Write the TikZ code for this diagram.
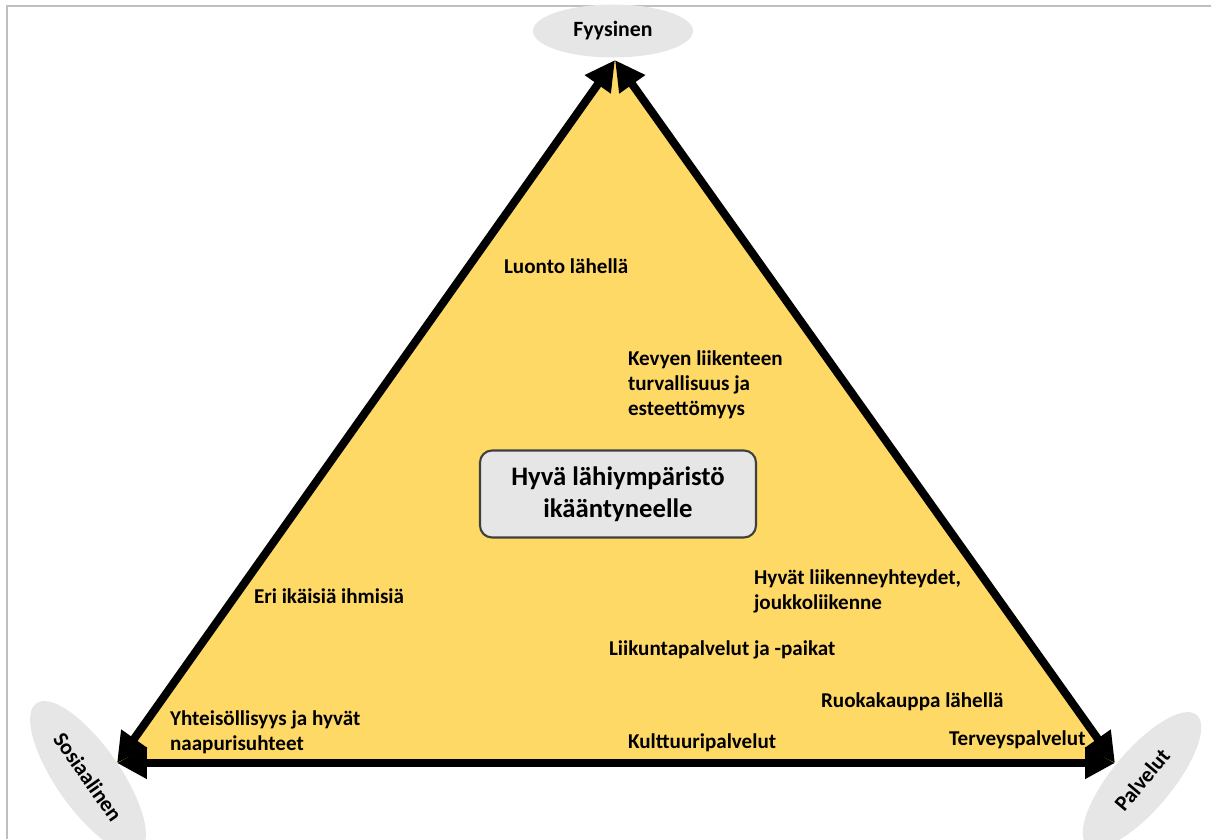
\documentclass[tikz,border=0pt]{standalone}
\usepackage{fontspec}
\setmainfont{Carlito}
\usepackage{tkz-euclide}
\usetikzlibrary{arrows.meta,shapes.geometric}
\definecolor{kulta}{RGB}{255,217,102}
\definecolor{harmaa}{RGB}{231,230,230}
\definecolor{kehys}{RGB}{191,191,191}
\definecolor{reuna}{RGB}{64,64,64}
\tikzset{
  sivu/.style={line width=2.3pt,
    {Triangle[length=8.5pt,width=8.5pt]}-{Triangle[length=8.5pt,width=8.5pt]}},
  teksti/.style={font=\fontsize{6}{7.1}\selectfont\bfseries,align=left,
    anchor=base west,inner sep=0pt},
  kulma/.style={ellipse,fill=harmaa,inner sep=0pt,
    font=\fontsize{6.2}{7.4}\selectfont\bfseries},
}

\begin{document}
\begin{tikzpicture}[semithick]
\useasboundingbox (0,0) rectangle (12.11,-8.39);
\draw[kehys,line width=0.6pt] (0.07,-8.39)--(0.07,-0.06)--(12.11,-0.06);
% kolmion karjet
\tkzDefPoints{6.15/-0.60/F,1.17/-7.63/S,11.15/-7.63/P}
\fill[kulta] (F)--(S)--(P)--cycle;
\draw[sivu] (F)--(S);
\draw[sivu] (F)--(P);
\draw[sivu] (S)--(P);
% kulmien ellipsit
\node[kulma,minimum width=1.6cm,minimum height=0.53cm] (fyys) at (6.13,-0.31) {Fyysinen};
\node[kulma,rotate=-55,minimum width=1.8cm,minimum height=0.64cm] (sos) at (0.88,-7.77) {Sosiaalinen};
\node[kulma,rotate=50,minimum width=1.7cm,minimum height=0.6cm] (palv) at (11.42,-7.80) {Palvelut};
% keskus
\node[draw=reuna,fill=harmaa,rounded corners=0.12cm,minimum width=2.76cm,
  minimum height=0.87cm,align=center,inner sep=0pt,
  font=\fontsize{7.6}{9.2}\selectfont\bfseries] (keski) at (6.18,-4.94)
  {Hyvä lähiympäristö\\ikääntyneelle};
% tekijat (base = viimeisen rivin pohjaviiva)
\node[teksti] (luonto) at (5.03,-2.73) {Luonto lähellä};
\node[teksti] (kevyt) at (6.27,-4.15) {Kevyen liikenteen\\turvallisuus ja\\esteettömyys};
\node[teksti] (liik) at (7.53,-6.09) {Hyvät liikenneyhteydet,\\joukkoliikenne};
\node[teksti] (eri) at (2.53,-6.03) {Eri ikäisiä ihmisiä};
\node[teksti] (liikunta) at (6.08,-6.55) {Liikuntapalvelut ja -paikat};
\node[teksti] (ruoka) at (8.20,-7.07) {Ruokakauppa lähellä};
\node[teksti] (yhteis) at (1.69,-7.50) {Yhteisöllisyys ja hyvät\\naapurisuhteet};
\node[teksti] (kult) at (6.27,-7.48) {Kulttuuripalvelut};
\node[teksti] (terv) at (9.48,-7.45) {Terveyspalvelut};
\end{tikzpicture}
\end{document}
